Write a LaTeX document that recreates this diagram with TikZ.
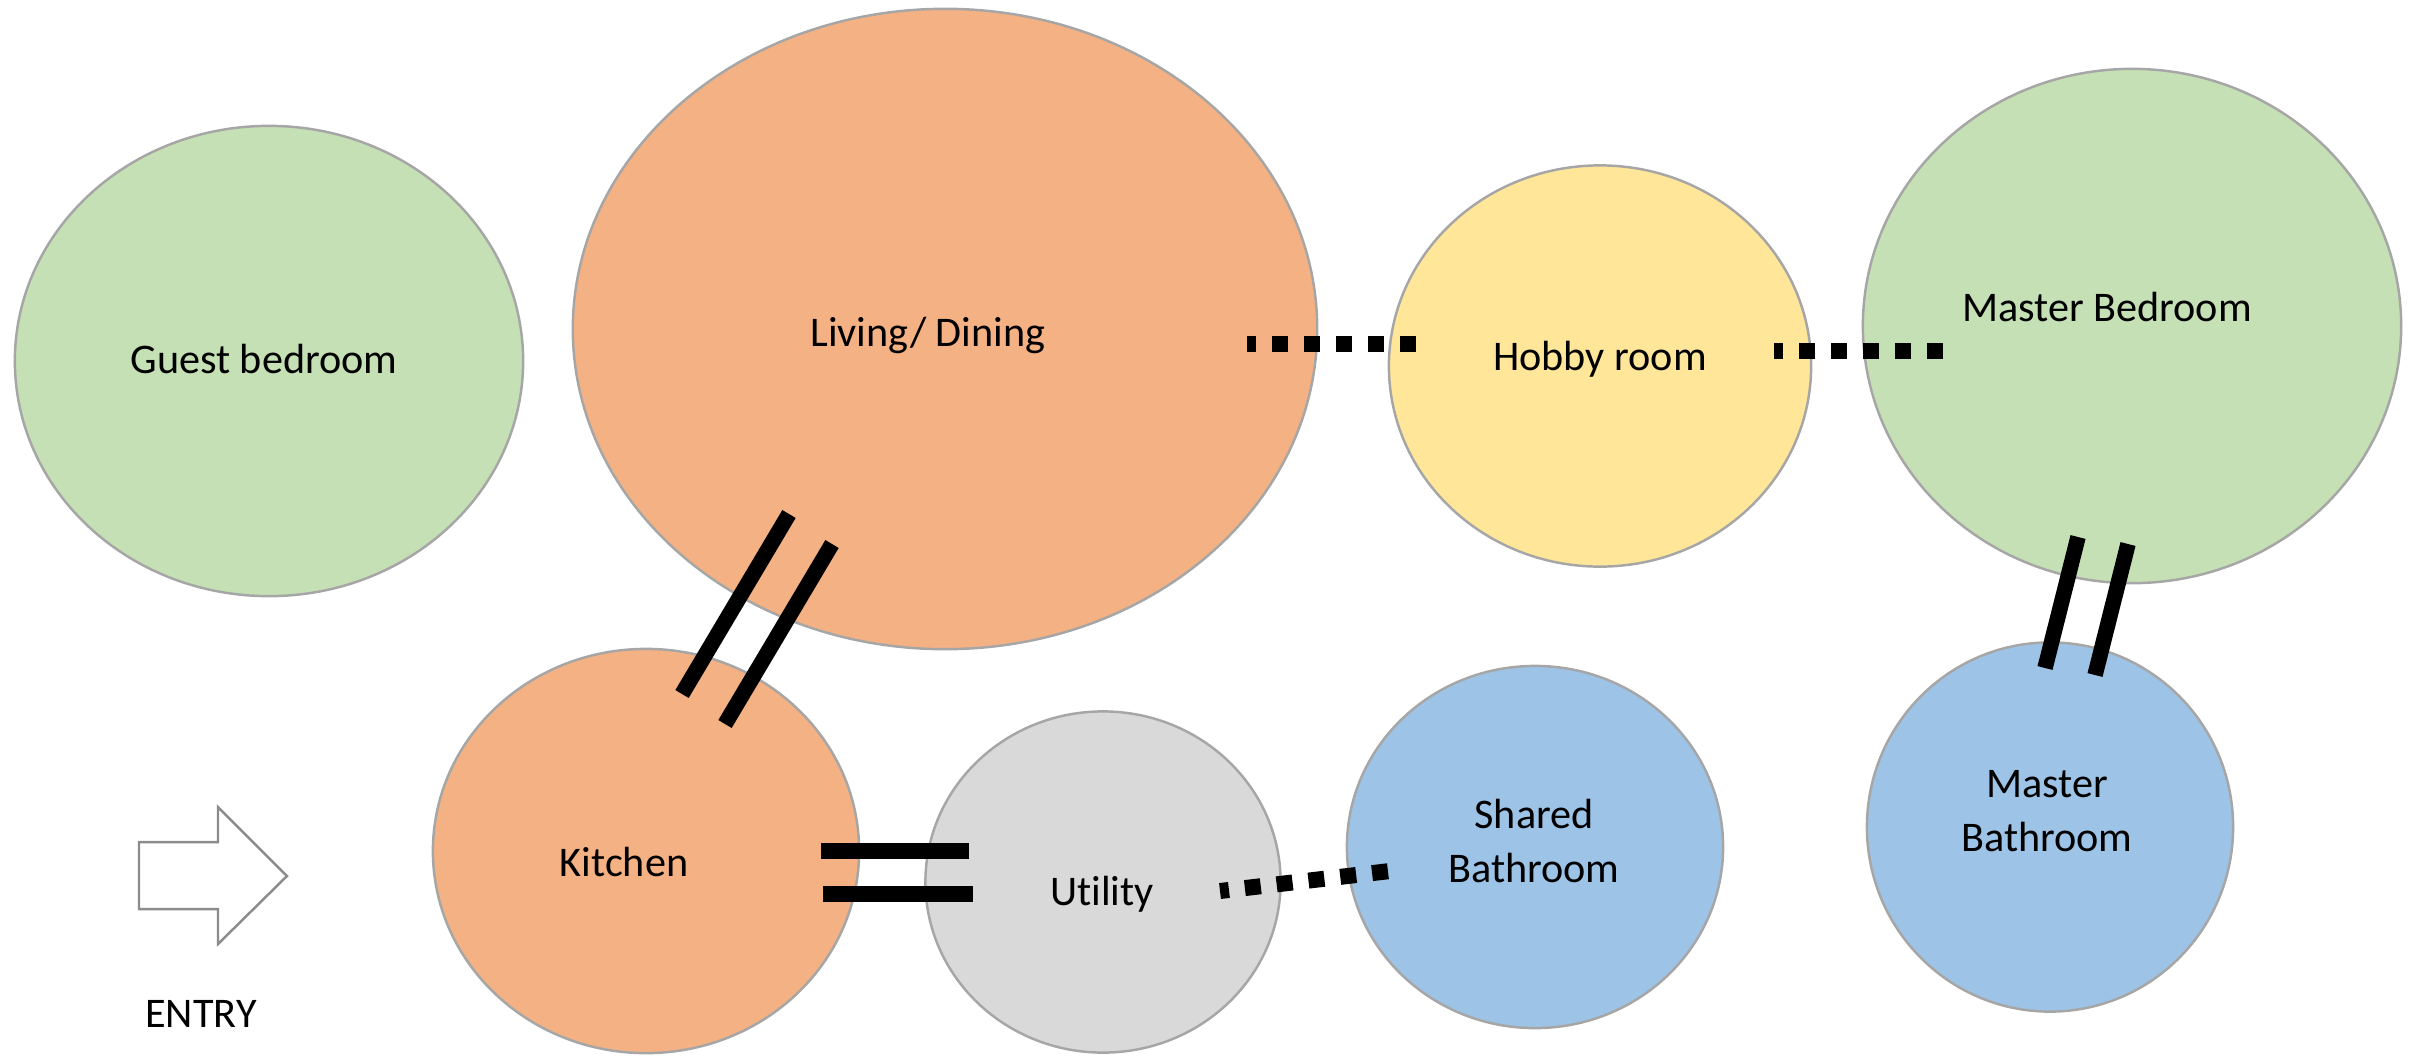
\documentclass[tikz,border=0pt]{standalone}
\usepackage{fontspec}
\setmainfont{Carlito}[Ligatures=NoCommon]
\usetikzlibrary{shapes.geometric}
\definecolor{roomgreen}{HTML}{C5E0B4}
\definecolor{roomorange}{HTML}{F4B183}
\definecolor{roomyellow}{HTML}{FFE699}
\definecolor{roomgrey}{HTML}{D9D9D9}
\definecolor{roomblue}{HTML}{9DC3E6}
\definecolor{roomline}{HTML}{A6A6A6}
\definecolor{arrowline}{HTML}{8C8C8C}
\begin{document}
\begin{tikzpicture}[x=0.01cm,y=-0.01cm,
    room/.style={ellipse,draw=roomline,line width=0.7pt,inner sep=0pt},
    roomtext/.style={font=\fontsize{12}{15.4}\selectfont,align=center},
    opening/.style={line width=1.6mm,dash pattern=on 1.6mm off 1.6mm,dash phase=0.7mm},
    passage/.style={line width=1.55mm}]
    \useasboundingbox (0,0) rectangle (2410,1057);
    % rooms
    \node[room,fill=roomgreen,minimum width=5.08cm,minimum height=4.70cm] (guest) at (269,361) {};
    \node[room,fill=roomorange,minimum width=7.44cm,minimum height=6.40cm] (living) at (945,329) {};
    \node[room,fill=roomyellow,minimum width=4.22cm,minimum height=4.01cm] (hobby) at (1600,366) {};
    \node[room,fill=roomgreen,minimum width=5.38cm,minimum height=5.14cm] (master) at (2132,326) {};
    \node[room,fill=roomorange,minimum width=4.26cm,minimum height=4.04cm] (kitchen) at (646,851) {};
    \node[room,fill=roomgrey,minimum width=3.55cm,minimum height=3.41cm] (utility) at (1103,882) {};
    \node[room,fill=roomblue,minimum width=3.76cm,minimum height=3.62cm] (shared) at (1535,847) {};
    \node[room,fill=roomblue,minimum width=3.66cm,minimum height=3.69cm] (masterbath) at (2050,827) {};
    \node[roomtext,anchor=base] (guest-t) at (264,373) {Guest bedroom};
    \node[roomtext,anchor=base] (living-t) at (928,346) {Living/ Dining};
    \node[roomtext,anchor=base] (hobby-t) at (1600,370) {Hobby room};
    \node[roomtext,anchor=base] (master-t) at (2107,321) {Master Bedroom};
    \node[roomtext,anchor=base] (kitchen-t) at (624,876) {Kitchen};
    \node[roomtext,anchor=base] (utility-t) at (1102,905) {Utility};
    \node[roomtext] (shared-t) at (1534,841) {Shared\\Bathroom};
    \node[roomtext] (masterbath-t) at (2047,811) {Master\\Bathroom};
    % entry
    \draw[draw=arrowline,line width=0.7pt,fill=white] (139,842) -- (218,842) -- (218,807) -- (287,876)
        -- (218,944) -- (218,909) -- (139,909) -- cycle;
    \node[roomtext,anchor=base] (entry-t) at (201,1027) {ENTRY};
    % openings
    \coordinate (lh-a) at (1247,344); \coordinate (lh-b) at (1416,344);
    \coordinate (hm-a) at (1774,351); \coordinate (hm-b) at (1943,351);
    \coordinate (us-a) at (1220,891); \coordinate (us-b) at (1390,871);
    \draw[opening] (lh-a) -- (lh-b);
    \draw[opening] (hm-a) -- (hm-b);
    \draw[opening] (us-a) -- (us-b);
    % passages
    \coordinate (lk1-a) at (789,514); \coordinate (lk1-b) at (682,694);
    \coordinate (lk2-a) at (832,544); \coordinate (lk2-b) at (725,724);
    \coordinate (mm1-a) at (2078,537); \coordinate (mm1-b) at (2045,668);
    \coordinate (mm2-a) at (2128,544); \coordinate (mm2-b) at (2095,675);
    \coordinate (ku1-a) at (821,851); \coordinate (ku1-b) at (969,851);
    \coordinate (ku2-a) at (823,894); \coordinate (ku2-b) at (973,894);
    \draw[passage] (lk1-a) -- (lk1-b);
    \draw[passage] (lk2-a) -- (lk2-b);
    \draw[passage] (mm1-a) -- (mm1-b);
    \draw[passage] (mm2-a) -- (mm2-b);
    \draw[passage] (ku1-a) -- (ku1-b);
    \draw[passage] (ku2-a) -- (ku2-b);
\end{tikzpicture}
\end{document}
